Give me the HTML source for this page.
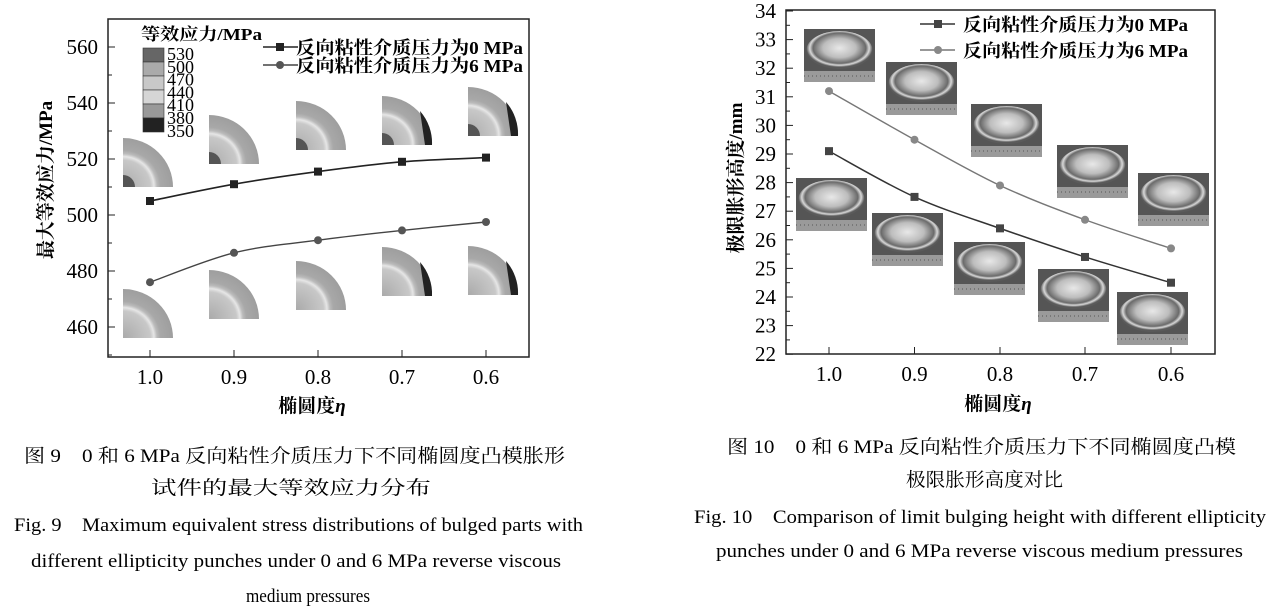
<!DOCTYPE html>
<html><head><meta charset="utf-8"><style>
body{margin:0;background:#fff;}
svg{display:block}
.t{font-family:"Liberation Serif","Noto Serif CJK SC",serif;}
</style></head><body>
<svg id="s" width="1269" height="612" viewBox="0 0 1269 612" xmlns="http://www.w3.org/2000/svg">
<defs>
<radialGradient id="disc" cx="0" cy="1" r="1" gradientUnits="objectBoundingBox">
<stop offset="0" stop-color="#aaa"/><stop offset="0.55" stop-color="#c8c8c8"/>
<stop offset="0.62" stop-color="#e6e6e6"/><stop offset="0.68" stop-color="#bbb"/>
<stop offset="0.75" stop-color="#a8a8a8"/><stop offset="1" stop-color="#9e9e9e"/>
</radialGradient>
<radialGradient id="ph" cx="0.5" cy="0.45" r="0.5">
<stop offset="0" stop-color="#e8e8e8"/><stop offset="0.5" stop-color="#bdbdbd"/>
<stop offset="0.8" stop-color="#6a6a6a"/><stop offset="0.9" stop-color="#d8d8d8"/><stop offset="1" stop-color="#5a5a5a"/>
</radialGradient>
</defs>
<g id="g"></g>
</svg>
<script>
(function(){
var g=document.getElementById('g'),h='';
function T(x,y,s,sz,anc,extra){h+='<text class="t" x="'+x+'" y="'+y+'" font-size="'+sz+'" text-anchor="'+(anc||'start')+'" '+(extra||'')+'>'+s+'</text>';}
function L(x1,x2,y,s,sz,extra){h+='<text class="t" x="'+x1+'" y="'+y+'" font-size="'+sz+'" textLength="'+(x2-x1)+'" lengthAdjust="spacingAndGlyphs" '+(extra||'')+'>'+s+'</text>';}
function smooth(p){var d='M'+p[0][0]+','+p[0][1];for(var i=0;i<p.length-1;i++){var p0=p[i-1]||p[i],p1=p[i],p2=p[i+1],p3=p[i+2]||p2;
d+=' C'+(p1[0]+(p2[0]-p0[0])/6)+','+(p1[1]+(p2[1]-p0[1])/6)+' '+(p2[0]-(p3[0]-p1[0])/6)+','+(p2[1]-(p3[1]-p1[1])/6)+' '+p2[0]+','+p2[1];}return d;}
var xs=[150,234,318,402,486];
function yl(v){return 47+(560-v)*2.8;}
var tp=[[123,138],[209,115],[296,101],[382,96],[468,87]],bt=[[123,289],[209,270],[296,261],[382,247],[468,246]];
tp.concat(bt).forEach(function(q,i){var x=q[0],y=q[1];h+='<path d="M'+x+','+(y+49)+' L'+x+','+y+' A50,49 0 0 1 '+(x+50)+','+(y+49)+' Z" fill="url(#disc)"/>';
if(i<5)h+='<path d="M'+x+','+(y+49)+' L'+x+','+(y+37)+' A12,12 0 0 1 '+(x+12)+','+(y+49)+' Z" fill="#555"/>';
if(i==3||i==4||i==8||i==9)h+='<path d="M'+(x+38)+','+(y+15)+' A50,49 0 0 1 '+(x+50)+','+(y+49)+' L'+(x+43)+','+(y+49)+' Z" fill="#222"/>';});
h+='<rect x="108" y="19" width="421" height="338" fill="none" stroke="#222" stroke-width="1.5"/>';
[560,540,520,500,480,460].forEach(function(v){var y=yl(v);h+='<line x1="108" x2="115" y1="'+y+'" y2="'+y+'" stroke="#222"/>';h+='<line x1="108" x2="112" y1="'+(y+28)+'" y2="'+(y+28)+'" stroke="#222"/>';T(98,y+7,v,21,'end');});
xs.forEach(function(x,i){h+='<line x1="'+x+'" x2="'+x+'" y1="357" y2="350" stroke="#222"/>';T(x,384,['1.0','0.9','0.8','0.7','0.6'][i],21,'middle');});
T(312,412,'椭圆度<tspan font-style="italic">η</tspan>',19,'middle','font-weight="bold"');
T(0,0,'最大等效应力/MPa',19,'middle','font-weight="bold" transform="translate(52,180) rotate(-90)"');
var a=[505,511,515.5,519,520.5].map(function(v,i){return[xs[i],yl(v)]}),b=[476,486.5,491,494.5,497.5].map(function(v,i){return[xs[i],yl(v)]});
h+='<path d="'+smooth(a)+'" fill="none" stroke="#222" stroke-width="1.6"/>';h+='<path d="'+smooth(b)+'" fill="none" stroke="#444" stroke-width="1.4"/>';
a.forEach(function(p){h+='<rect x="'+(p[0]-4)+'" y="'+(p[1]-4)+'" width="8" height="8" fill="#222"/>';});
b.forEach(function(p){h+='<circle cx="'+p[0]+'" cy="'+p[1]+'" r="4" fill="#555"/>';});
var cols=['#666','#aaa','#c8c8c8','#d6d6d6','#999','#222'];
cols.forEach(function(c,i){h+='<rect x="143" y="'+(48+i*14)+'" width="21" height="14" fill="'+c+'" stroke="#333" stroke-width="0.6"/>';});
L(141,262,40,'等效应力/MPa',17,'font-weight="bold"');
['530','500','470','440','410','380','350'].forEach(function(s,i){T(167,60+i*12.8,s,18);});
h+='<line x1="263" x2="298" y1="47" y2="47" stroke="#222" stroke-width="1.6"/><rect x="276" y="43" width="8" height="8" fill="#222"/>';
h+='<line x1="263" x2="298" y1="65" y2="65" stroke="#444" stroke-width="1.4"/><circle cx="280" cy="65" r="4" fill="#555"/>';
L(296,523,54,'反向粘性介质压力为0 MPa',18,'font-weight="bold"');L(296,523,72,'反向粘性介质压力为6 MPa',18,'font-weight="bold"');
var xr=[829,914.5,1000,1085,1171];function yr(v){return 11+(34-v)*28.6;}
[[804,29],[886,62],[971,104],[1057,145],[1138,173],[796,178],[872,213],[954,242],[1038,269],[1117,292]].forEach(function(q){var x=q[0],y=q[1];
h+='<rect x="'+x+'" y="'+y+'" width="71" height="53" fill="#555"/><ellipse cx="'+(x+35.5)+'" cy="'+(y+21)+'" rx="33" ry="19" fill="url(#ph)"/><rect x="'+x+'" y="'+(y+42)+'" width="71" height="11" fill="#9a9a9a"/><line x1="'+x+'" x2="'+(x+71)+'" y1="'+(y+47)+'" y2="'+(y+47)+'" stroke="#555" stroke-dasharray="1,3"/>';});
h+='<rect x="786" y="10" width="429" height="344" fill="none" stroke="#222" stroke-width="1.5"/>';
for(var v=22;v<=34;v++){var y=yr(v);h+='<line x1="786" x2="793" y1="'+y+'" y2="'+y+'" stroke="#222"/>';if(v<34)h+='<line x1="786" x2="790" y1="'+(y-14.3)+'" y2="'+(y-14.3)+'" stroke="#222"/>';T(776,y+7,v,21,'end');}
xr.forEach(function(x,i){h+='<line x1="'+x+'" x2="'+x+'" y1="354" y2="347" stroke="#222"/>';T(x,381,['1.0','0.9','0.8','0.7','0.6'][i],21,'middle');});
T(998,410,'椭圆度<tspan font-style="italic">η</tspan>',19,'middle','font-weight="bold"');
T(0,0,'极限胀形高度/mm',19,'middle','font-weight="bold" transform="translate(742,178) rotate(-90)"');
var c=[29.1,27.5,26.4,25.4,24.5].map(function(v,i){return[xr[i],yr(v)]}),d=[31.2,29.5,27.9,26.7,25.7].map(function(v,i){return[xr[i],yr(v)]});
h+='<path d="'+smooth(c)+'" fill="none" stroke="#333" stroke-width="1.5"/>';h+='<path d="'+smooth(d)+'" fill="none" stroke="#777" stroke-width="1.4"/>';
c.forEach(function(p){h+='<rect x="'+(p[0]-4)+'" y="'+(p[1]-4)+'" width="8" height="8" fill="#444"/>';});
d.forEach(function(p){h+='<circle cx="'+p[0]+'" cy="'+p[1]+'" r="4" fill="#888"/>';});
h+='<line x1="920" x2="955" y1="24" y2="24" stroke="#333" stroke-width="1.5"/><rect x="934" y="20" width="8" height="8" fill="#444"/>';
h+='<line x1="920" x2="955" y1="50" y2="50" stroke="#777" stroke-width="1.4"/><circle cx="938" cy="50" r="4" fill="#888"/>';
L(963,1188,31,'反向粘性介质压力为0 MPa',18,'font-weight="bold"');L(963,1188,57,'反向粘性介质压力为6 MPa',18,'font-weight="bold"');
L(24,565,462,'图 9　0 和 6 MPa 反向粘性介质压力下不同椭圆度凸模胀形',19);
L(151,431,494,'试件的最大等效应力分布',19);
L(14,583,531,'Fig. 9　Maximum equivalent stress distributions of bulged parts with',19);
L(31,561,567,'different ellipticity punches under 0 and 6 MPa reverse viscous',19);
L(246,370,602,'medium pressures',19);
L(727,1236,453,'图 10　0 和 6 MPa 反向粘性介质压力下不同椭圆度凸模',19);
L(906,1063,486,'极限胀形高度对比',19);
L(694,1266,523,'Fig. 10　Comparison of limit bulging height with different ellipticity',19);
L(716,1243,557,'punches under 0 and 6 MPa reverse viscous medium pressures',19);
g.innerHTML=h;
})();
</script>
</body></html>
